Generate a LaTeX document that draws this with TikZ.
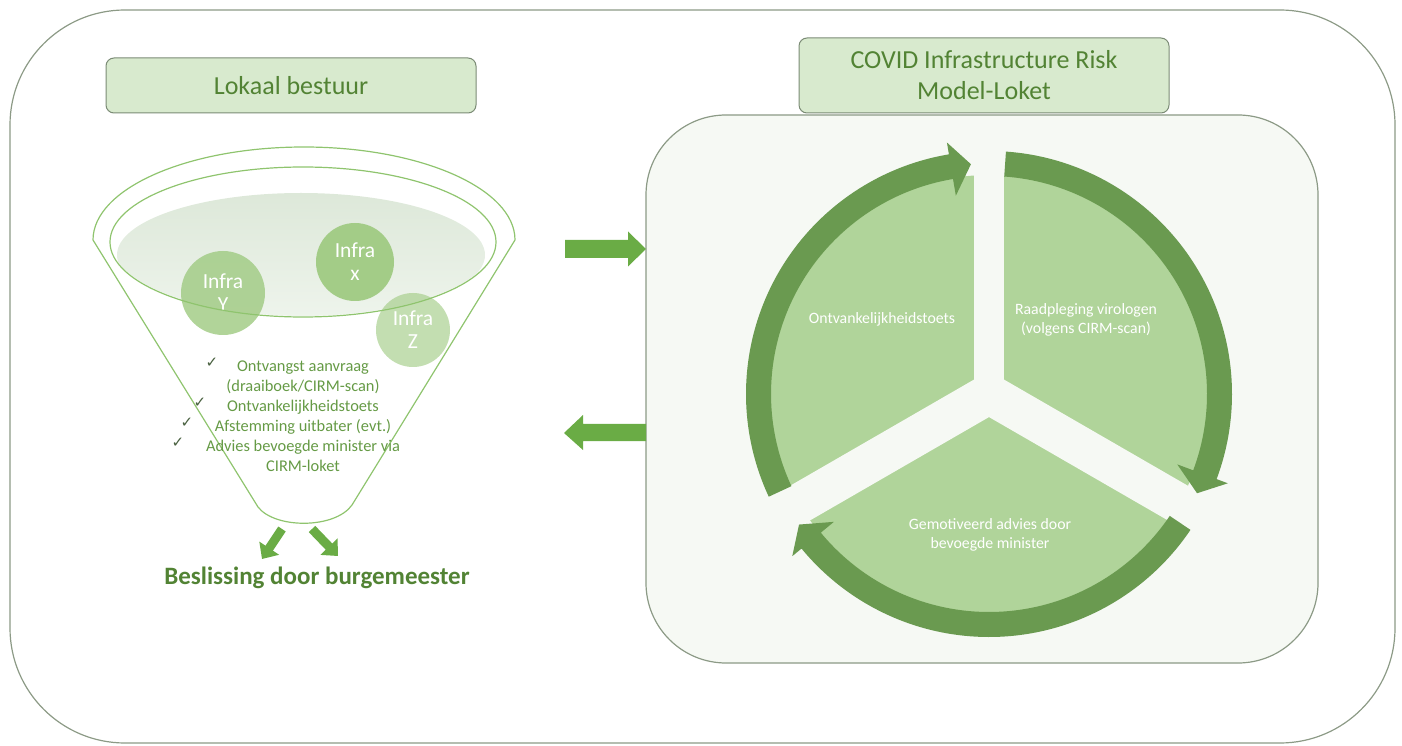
\documentclass[tikz,border=0pt]{standalone}
\usepackage{fontspec}
\setmainfont{Carlito}
\newfontfamily\symfont{DejaVu Sans}
\usetikzlibrary{arrows.meta}
\definecolor{framec}{HTML}{8C9A86}
\definecolor{hdrfill}{HTML}{D8EACE}
\definecolor{hdrdraw}{HTML}{7B8B75}
\definecolor{hdrtext}{HTML}{528334}
\definecolor{listtext}{HTML}{659A45}
\definecolor{funnelc}{HTML}{8FC46E}
\definecolor{blockg}{HTML}{6AAC45}
\definecolor{arcg}{HTML}{6A9A50}
\definecolor{sectg}{HTML}{B0D49A}
\definecolor{panelfill}{HTML}{F6F9F4}
\definecolor{infrac}{HTML}{A3CC87}
\definecolor{checkc}{HTML}{48603F}
\definecolor{liqtop}{HTML}{DDE8D9}
\definecolor{liqbot}{HTML}{EEF4EC}
\tikzset{
  frame/.style={draw=framec, line width=1.2pt},
  hdr/.style={draw=hdrdraw, fill=hdrfill, rounded corners=8pt, line width=1pt, text=hdrtext, align=center, inner sep=0pt, font=\fontsize{26}{31}\selectfont},
  funnelline/.style={draw=funnelc, line width=1.2pt},
  infracirc/.style={circle, inner sep=0pt, text=white, align=center, font=\fontsize{21.5}{23}\selectfont},
  checklist/.style={text=listtext, align=center, inner sep=0pt, font=\fontsize{16.4}{20}\selectfont},
  checkm/.style={text=checkc, inner sep=0pt, font=\symfont\fontsize{15}{15}\selectfont},
  smallarrow/.style={draw=blockg, line width=9pt, -{Triangle[width=23pt,length=13pt]}},
  secttext/.style={text=white, align=center, inner sep=0pt, font=\fontsize{15.8}{19.5}\selectfont},
  arcband/.style={fill=arcg},
}
\begin{document}
\begin{tikzpicture}[x=1pt,y=1pt]
\useasboundingbox (0,0) rectangle (1402,745);
% outer frame
\draw[frame, rounded corners=115pt] (10,735) rectangle (1395,2);
% right panel
\draw[frame, fill=panelfill, rounded corners=80pt] (646,630) rectangle (1318,82);
% headers
\node[hdr, minimum width=370pt, minimum height=55pt] (lokaal) at (291,659.5) {Lokaal bestuur};
\node[hdr, minimum width=370pt, minimum height=75pt] (covid) at (984,669.5) {COVID Infrastructure Risk\\Model-Loket};
% funnel
\begin{scope}
\clip (303,503) ellipse[x radius=192, y radius=74];
\shade[top color=liqtop, bottom color=liqbot] (301,490) ellipse[x radius=184, y radius=62];
\end{scope}
\node[infracirc, fill=infrac, fill opacity=0.85, text opacity=1, minimum size=84pt] (iy) at (223,452) {Infra\\Y};
\node[infracirc, fill=infrac, minimum size=78pt] (ix) at (355,483) {Infra\\x};
\node[infracirc, fill=infrac, fill opacity=0.65, text opacity=1, minimum size=74pt] (iz) at (413,415) {Infra\\Z};
\draw[funnelline] (93,505) arc[start angle=180, end angle=0, x radius=211, y radius=93] -- (352,240) .. controls (335,216) and (275,216) .. (258,238) -- cycle;
\draw[funnelline] (303,503) ellipse[x radius=193, y radius=75];
\node[checklist] (list) at (303,328.5) {Ontvangst aanvraag\\(draaiboek/CIRM-scan)\\Ontvankelijkheidstoets\\Afstemming uitbater (evt.)\\Advies bevoegde minister via\\CIRM-loket};
\node[checkm] (c1) at (212,382) {✓};
\node[checkm] (c2) at (200,342) {✓};
\node[checkm] (c3) at (187,322) {✓};
\node[checkm] (c4) at (178,302) {✓};
\coordinate (fb1) at (282,216);
\coordinate (fe1) at (262,186);
\coordinate (fb2) at (312,216);
\coordinate (fe2) at (338,189);
\draw[smallarrow] (fb1) -- (fe1);
\draw[smallarrow] (fb2) -- (fe2);
\node[text=hdrtext, inner sep=0pt, font=\bfseries\fontsize{25}{30}\selectfont] (besl) at (317,167) {Beslissing door burgemeester};
% horizontal block arrows
\fill[blockg] (565,487) -- (628,487) -- (628,478.5) -- (646,496) -- (628,513.5) -- (628,505) -- (565,505) -- cycle;
\fill[blockg] (646,304) -- (583,304) -- (583,295) -- (564,312) -- (583,330) -- (583,321) -- (646,321) -- cycle;
% cycle
\begin{scope}[shift={(989,351)}]
\fill[sectg] (0,0) circle[radius=219];
\draw[panelfill, line width=30pt] (0,0) -- (90:235);
\draw[panelfill, line width=40pt] (0,0) -- (210:235);
\draw[panelfill, line width=40pt] (0,0) -- (330:235);
\fill[panelfill] (0,0) circle[radius=19];
\fill[arcband] (205:243) arc[start angle=205, end angle=99.5, radius=243] -- (99.5:255) -- (94.5:230.5) -- (99.5:201) -- (99.5:218) arc[start angle=99.5, end angle=205, radius=218] -- cycle;
\fill[arcband] (86:243) arc[start angle=86, end angle=-20.5, radius=243] -- (-20.5:255) -- (-25.5:230.5) -- (-20.5:201) -- (-20.5:218) arc[start angle=-20.5, end angle=86, radius=218] -- cycle;
\fill[arcband] (326:243) arc[start angle=326, end angle=219.5, radius=243] -- (219.5:255) -- (214.5:230.5) -- (219.5:201) -- (219.5:218) arc[start angle=219.5, end angle=326, radius=218] -- cycle;
\end{scope}
\node[secttext] (s1) at (882,426) {Ontvankelijkheidstoets};
\node[secttext] (s2) at (1086,425) {Raadpleging virologen\\(volgens CIRM-scan)};
\node[secttext] (s3) at (990,210) {Gemotiveerd advies door\\bevoegde minister};
\end{tikzpicture}
\end{document}
